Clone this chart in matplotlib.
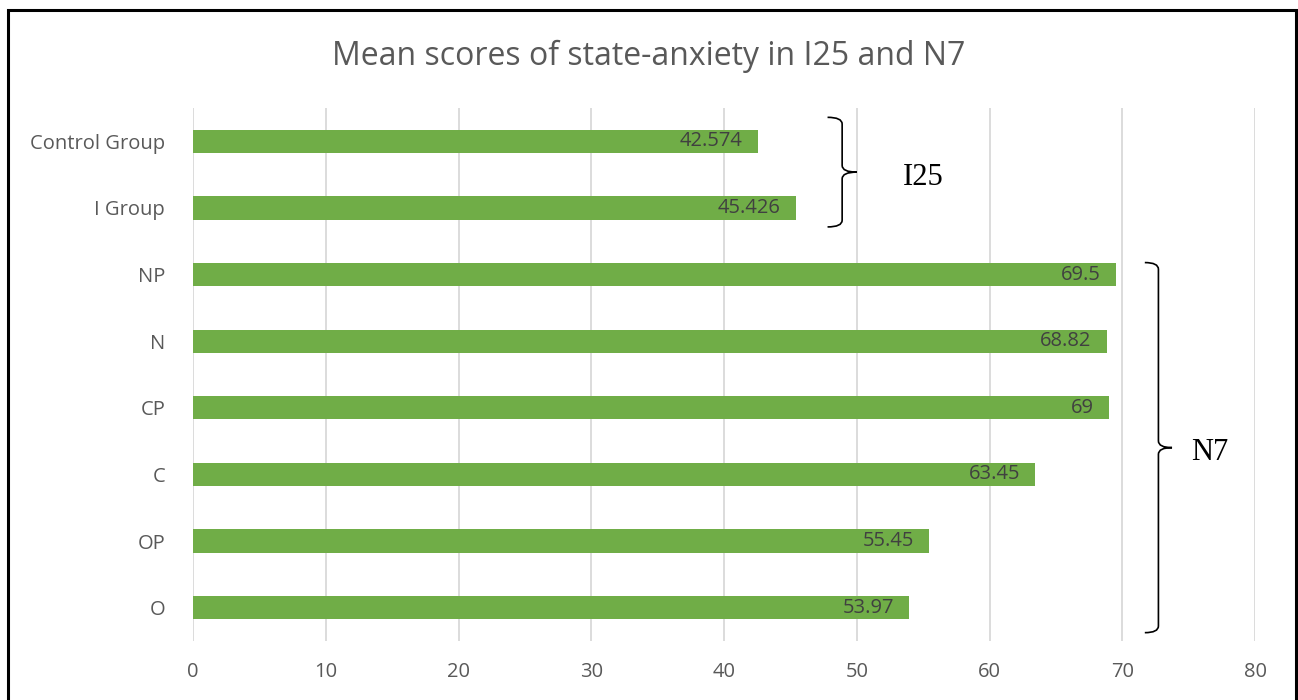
import matplotlib
matplotlib.use("Agg")
import matplotlib.pyplot as plt
from matplotlib.path import Path
from matplotlib.patches import PathPatch, Rectangle

categories = ["Control Group", "I Group", "NP", "N", "CP", "C", "OP", "O"]
values = [42.574, 45.426, 69.5, 68.82, 69, 63.45, 55.45, 53.97]
value_labels = ["42.574", "45.426", "69.5", "68.82", "69", "63.45", "55.45", "53.97"]
xticks = [0, 10, 20, 30, 40, 50, 60, 70, 80]
# name, first category, last category, brace left x, brace tip x, label x
groups = [("I25", 0, 1, 47.8, 50.0, 55.0), ("N7", 2, 7, 71.7, 73.75, 76.6)]

W, H, DPI = 1298, 700, 100
fig = plt.figure(figsize=(W / DPI, H / DPI), dpi=DPI)
plt.rcParams['font.family'] = ['Open Sans', 'DejaVu Sans']

ax = fig.add_axes([193 / W, 1 - 641 / H, (1255 - 193) / W, (641 - 108) / H])
ypos = list(range(len(categories)))
ax.barh(ypos, values, height=0.35, color="#70AD47", zorder=3)
ax.set_ylim(len(categories) - 0.5, -0.5)
ax.set_xlim(0, 80)
ax.set_xticks(xticks)
ax.set_xticklabels([str(t) for t in xticks])
ax.set_yticks(ypos)
ax.set_yticklabels(categories)
ax.tick_params(axis='both', length=0, labelsize=14.5, colors="#595959")
ax.tick_params(axis='x', pad=15)
ax.tick_params(axis='y', pad=20)
ax.grid(axis='x', color="#D9D9D9", linewidth=1.3, zorder=0)
for s in ax.spines.values():
    s.set_visible(False)

for y, v, lab in zip(ypos, values, value_labels):
    ax.annotate(lab, xy=(v, y), xytext=(-11, 0), textcoords="offset points",
                ha="right", va="center", fontsize=14.5, color="#404040", zorder=4)

def brace(ax, x0, x1, ytop, ybot, r=0.1):
    xm = (x0 + x1) / 2
    ymid = (ytop + ybot) / 2
    verts = [
        (x0, ytop), (xm, ytop), (xm, ytop + r),
        (xm, ymid - r), (xm, ymid), (x1, ymid),
        (xm, ymid), (xm, ymid + r),
        (xm, ybot - r), (xm, ybot), (x0, ybot),
    ]
    codes = [Path.MOVETO, Path.CURVE3, Path.CURVE3,
             Path.LINETO, Path.CURVE3, Path.CURVE3,
             Path.CURVE3, Path.CURVE3,
             Path.LINETO, Path.CURVE3, Path.CURVE3]
    p = PathPatch(Path(verts, codes), fill=False, edgecolor="black", linewidth=1.2,
                  zorder=5, clip_on=False)
    ax.add_patch(p)

offsets = {"I25": (0.36, 0.285), "N7": (0.18, 0.375)}
for name, i0, i1, xa, xb, xl in groups:
    top_off, bot_off = offsets[name]
    ytop = i0 - top_off
    ybot = i1 + bot_off
    brace(ax, xa, xb, ytop, ybot)
    ax.text(xl, (ytop + ybot) / 2 + 0.08, name,
            family=["Liberation Serif", "DejaVu Serif"], fontsize=22,
            color="black", ha="center", va="center")

fig.text(0.5, 1 - 56 / H, "Mean scores of state-anxiety in I25 and N7",
         ha="center", va="center", fontsize=23, color="#595959")

fig.patches.append(Rectangle((8 / W, -0.05), (1296 - 8) / W, 1.05 - 10 / H,
                             transform=fig.transFigure, fill=False,
                             edgecolor="black", linewidth=2.2))

fig.savefig("out.png", dpi=DPI)
